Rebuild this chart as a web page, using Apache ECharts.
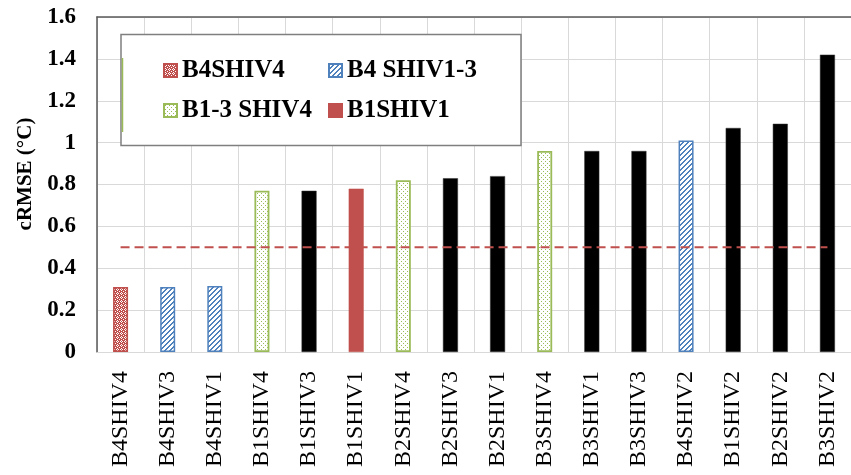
<!DOCTYPE html>
<html>
<head>
<meta charset="utf-8">
<script src="https://cdn.jsdelivr.net/npm/echarts@6/dist/echarts.min.js"></script>
<style>
  html, body { margin: 0; padding: 0; background: #fff; }
  #chart { width: 851px; height: 475px; }
</style>
</head>
<body>
<div id="chart"></div>
<script>
// Model runs, in the order they are plotted
const categories = ['B4SHIV4', 'B4SHIV3', 'B4SHIV1', 'B1SHIV4', 'B1SHIV3', 'B1SHIV1', 'B2SHIV4', 'B2SHIV3',
                    'B2SHIV1', 'B3SHIV4', 'B3SHIV1', 'B3SHIV3', 'B4SHIV2', 'B1SHIV2', 'B2SHIV2', 'B3SHIV2'];
// cRMSE per run (°C)
const crmse = [0.31, 0.31, 0.315, 0.77, 0.77, 0.78, 0.82, 0.83, 0.84, 0.96, 0.96, 0.96, 1.01, 1.07, 1.09, 1.42];
// Which group each run belongs to ('other' = plain black bar, not in the legend)
const groups = ['B4SHIV4', 'B4 SHIV1-3', 'B4 SHIV1-3', 'B1-3 SHIV4', 'other', 'B1SHIV1', 'B1-3 SHIV4', 'other',
                'other', 'B1-3 SHIV4', 'other', 'other', 'B4 SHIV1-3', 'other', 'other', 'other'];
// Accuracy threshold drawn as a dashed line
const threshold = [0.5, 0.5, 0.5, 0.5, 0.5, 0.5, 0.5, 0.5, 0.5, 0.5, 0.5, 0.5, 0.5, 0.5, 0.5, 0.5];
// Y axis ticks
const yTicks = { min: 0, max: 1.6, step: 0.2 };
const legendNames = ['B4SHIV4', 'B4 SHIV1-3', 'B1-3 SHIV4', 'B1SHIV1'];

const RED = '#C0504D', BLUE = '#4F81BD', GREEN = '#9BBB59';

// Small repeating tiles used as hatch fills
function tile(size, bg, fg, pixels) {
  const c = document.createElement('canvas');
  c.width = size; c.height = size;
  const ctx = c.getContext('2d');
  ctx.fillStyle = bg; ctx.fillRect(0, 0, size, size);
  ctx.fillStyle = fg;
  pixels.forEach(p => ctx.fillRect(p[0], p[1], 1, 1));
  return { image: c, repeat: 'repeat' };
}
const redTrellis = tile(4, RED, '#ffffff', [[1, 0], [0, 1], [2, 1], [1, 2], [3, 3]]);
const blueStripe = tile(5, '#ffffff', BLUE, [[0, 4], [1, 3], [2, 2], [3, 1], [4, 0], [1, 4], [2, 3], [3, 2], [4, 1], [0, 0]]);
const greenDots = tile(4, '#ffffff', GREEN, [[1, 1], [3, 3]]);

const styles = {
  'B4SHIV4':    { color: redTrellis, borderColor: RED, borderWidth: 1.5 },
  'B4 SHIV1-3': { color: blueStripe, borderColor: BLUE, borderWidth: 1.5 },
  'B1-3 SHIV4': { color: greenDots, borderColor: GREEN, borderWidth: 1.8 },
  'B1SHIV1':    { color: RED, borderColor: RED, borderWidth: 0.5 },
  'other':      { color: '#000000', borderColor: '#333333', borderWidth: 0.5 }
};

const font = '"Liberation Serif", "Times New Roman", serif';

const barSeries = ['other'].concat(legendNames).map(name => ({
  name: name,
  type: 'bar',
  barWidth: 15,
  barGap: '-100%',
  itemStyle: styles[name],
  data: crmse.map((v, i) => groups[i] === name ? v : '-'),
  z: 2
}));

const lineSeries = {
  name: 'threshold',
  type: 'line',
  data: threshold,
  symbol: 'none',
  lineStyle: { color: RED, width: 2, type: [9, 5] },
  z: 3
};

const legendPos = [[163, 58], [328, 58], [163, 98], [328, 98]];
const legends = legendNames.map((n, i) => ({
  data: [n],
  left: legendPos[i][0],
  top: legendPos[i][1],
  padding: 0,
  icon: 'rect',
  itemWidth: 13,
  itemHeight: 13,
  selectedMode: false,
  z: 6,
  textStyle: { fontFamily: font, fontWeight: 'bold', fontSize: 25, color: '#000' }
}));

const chart = echarts.init(document.getElementById('chart'), null, { renderer: 'canvas' });
chart.setOption({
  animation: false,
  backgroundColor: '#ffffff',
  grid: { left: 97, top: 17, right: -10, bottom: 123 },
  legend: legends,
  xAxis: [{
    type: 'category',
    data: categories,
    axisLine: { show: true, lineStyle: { color: '#d9d9d9', width: 1 } },
    axisTick: { show: false },
    splitLine: { show: true, interval: 0, lineStyle: { color: '#d9d9d9', width: 1 } },
    axisLabel: { interval: 0, rotate: 90, margin: 19, fontFamily: font, fontSize: 24, color: '#000' }
  }, {
    type: 'category',
    data: categories,
    position: 'top',
    axisLine: { show: true, lineStyle: { color: '#595959', width: 1.5 } },
    axisTick: { show: false },
    axisLabel: { show: false },
    splitLine: { show: false }
  }],
  yAxis: {
    type: 'value',
    min: yTicks.min,
    max: yTicks.max,
    interval: yTicks.step,
    axisLine: { show: true, lineStyle: { color: '#595959', width: 1.5 } },
    axisTick: { show: false },
    splitLine: { lineStyle: { color: '#d9d9d9', width: 1 } },
    axisLabel: { margin: 21, fontFamily: font, fontWeight: 'bold', fontSize: 23, color: '#000' }
  },
  graphic: [
    {
      type: 'rect', z: 5,
      shape: { x: 121, y: 34.5, width: 400, height: 111 },
      style: { fill: '#ffffff', stroke: '#7f7f7f', lineWidth: 1.5 }
    },
    {
      type: 'line', z: 5,
      shape: { x1: 122.5, y1: 58, x2: 122.5, y2: 132 },
      style: { stroke: GREEN, lineWidth: 1.5 }
    },
    {
      type: 'text', z: 5,
      x: 26, y: 174, rotation: Math.PI / 2,
      style: {
        text: 'cRMSE (°C)', font: 'bold 21px ' + font, fill: '#000',
        align: 'center', verticalAlign: 'middle', textAlign: 'center', textVerticalAlign: 'middle'
      }
    }
  ],
  series: barSeries.concat([lineSeries])
});
</script>
</body>
</html>
